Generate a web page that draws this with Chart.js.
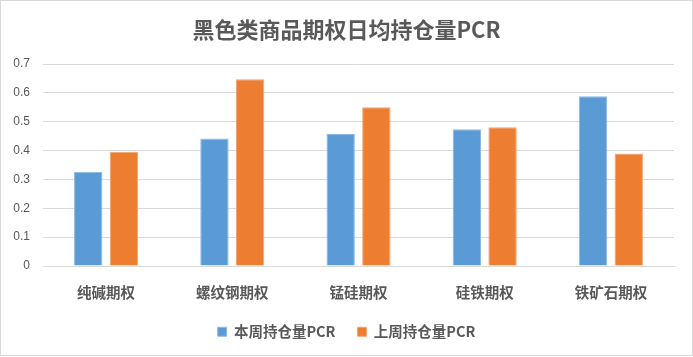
<!DOCTYPE html>
<html>
<head>
<meta charset="utf-8">
<script src="https://cdn.jsdelivr.net/npm/chart.js@4.4.0/dist/chart.umd.min.js"></script>
<style>
html,body{margin:0;padding:0;background:#fff;}
#c{display:block;}
</style>
</head>
<body>
<canvas id="c" width="693" height="357"></canvas>
<script>
const categories = ['纯碱期权','螺纹钢期权','锰硅期权','硅铁期权','铁矿石期权'];
const thisWeek = [0.327, 0.442, 0.457, 0.474, 0.588];
const lastWeek = [0.396, 0.647, 0.550, 0.481, 0.390];
const seriesNames = ['本周持仓量PCR','上周持仓量PCR'];
const yTicks = [0,0.1,0.2,0.3,0.4,0.5,0.6,0.7];

const cjk = '"Noto Sans CJK SC", "Noto Sans", sans-serif';
const gray = '#595959';

const borderPlugin = {
  id: 'outerBorder',
  beforeDraw(chart) {
    const ctx = chart.ctx;
    ctx.save();
    ctx.fillStyle = '#fff';
    ctx.fillRect(0,0,chart.width,chart.height);
    ctx.restore();
  },
  afterDraw(chart) {
    const ctx = chart.ctx;
    ctx.save();
    ctx.strokeStyle = '#d9d9d9';
    ctx.lineWidth = 1;
    ctx.strokeRect(0.5,0.5,chart.width-1,chart.height-2);
    ctx.restore();
  }
};

new Chart(document.getElementById('c'), {
  type: 'bar',
  data: {
    labels: categories,
    datasets: [
      {label: seriesNames[0], data: thisWeek, backgroundColor: '#5B9BD5', borderColor: '#8DB9E4', borderWidth: 1,
       categoryPercentage: 0.566, barPercentage: 0.795},
      {label: seriesNames[1], data: lastWeek, backgroundColor: '#ED7D31', borderColor: '#F3A470', borderWidth: 1,
       categoryPercentage: 0.566, barPercentage: 0.795}
    ]
  },
  options: {
    responsive: false,
    animation: false,
    layout: {padding: {left: 0, right: 0, top: 0, bottom: 8}},
    plugins: {
      title: {
        display: true,
        text: '黑色类商品期权日均持仓量PCR',
        color: gray,
        font: {family: cjk, size: 22, weight: 'bold'},
        padding: {top: 16, bottom: 21.6}
      },
      legend: {
        position: 'bottom',
        labels: {
          color: gray,
          font: {family: cjk, size: 14.5, weight: 'bold'},
          boxWidth: 9, boxHeight: 9,
          padding: 22
        }
      },
      tooltip: {enabled: false}
    },
    scales: {
      x: {
        afterFit(scale) { scale.height = 36.5; },
        grid: {display: false, drawTicks: false},
        border: {display: true, color: '#d9d9d9', width: 1},
        ticks: {color: gray, font: {family: cjk, size: 14.5, weight: 'bold'}, padding: 17.3}
      },
      y: {
        min: 0, max: 0.7,
        afterFit(scale) { scale.width = 43; },
        afterBuildTicks(scale) { scale.ticks = yTicks.map(v => ({value: v})); },
        grid: {color: '#d9d9d9', lineWidth: 1, drawTicks: false},
        border: {display: false},
        ticks: {color: gray, font: {family: '"Liberation Sans", Arial, sans-serif', size: 12}, padding: 13,
                callback: v => String(Math.round(v*10)/10)}
      },
      yRightSpacer: {
        position: 'right',
        display: true,
        afterFit(scale) { scale.width = 19; },
        grid: {display: false, drawTicks: false},
        border: {display: false},
        ticks: {display: false}
      }
    }
  },
  plugins: [borderPlugin]
});
</script>
</body>
</html>
